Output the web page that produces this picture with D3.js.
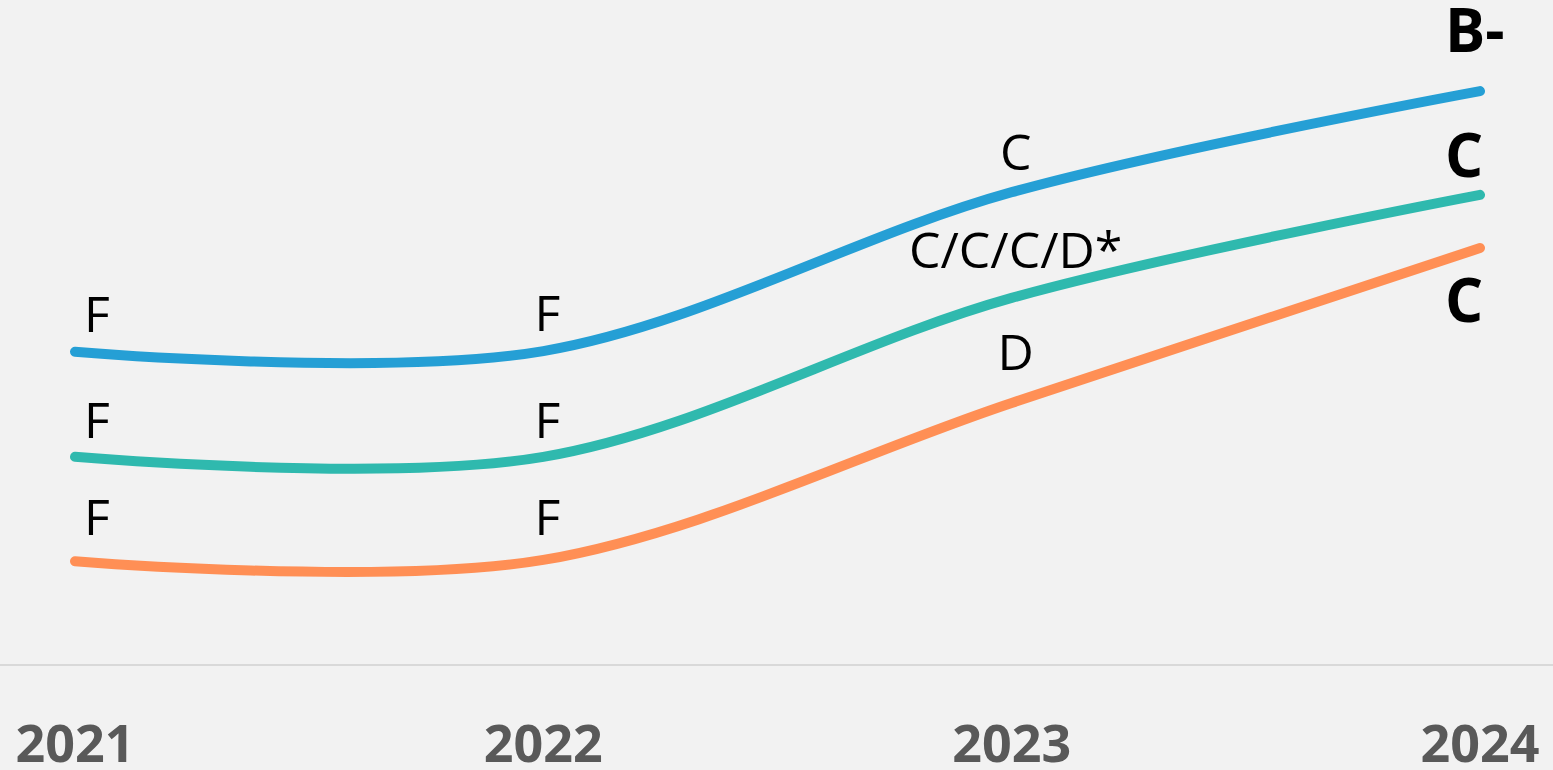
<!DOCTYPE html>
<html>
<head>
<meta charset="utf-8">
<script src="https://cdn.jsdelivr.net/npm/d3@7"></script>
<style>
  html, body { margin: 0; padding: 0; background: #f2f2f2; overflow: hidden; }
  svg { display: block; font-family: "Open Sans", "Noto Sans", sans-serif; }
</style>
</head>
<body>
<svg id="chart" width="1553" height="770"></svg>
<script>
// data
var years = ['2021', '2022', '2023', '2024'];
var blueValues   = [47.1, 47.2, 71.1, 86.3];
var tealValues   = [31.3, 31.3, 55.2, 70.7];
var orangeValues = [15.6, 15.8, 39.4, 62.7];
var blueGrades   = ['F', 'F', 'C', 'B-'];
var tealGrades   = ['F', 'F', 'C/C/C/D*', 'C'];
var orangeGrades = ['F', 'F', 'D', 'C'];

// layout
var width = 1553, height = 770;
var svg = d3.select('#chart');

svg.append('rect').attr('width', width).attr('height', height).attr('fill', '#f2f2f2');

var x = d3.scalePoint().domain(years).range([75, 1480]);
var y = d3.scaleLinear().domain([0, 100]).range([665, 0]);

var series = [
  { values: blueValues,   grades: blueGrades,   color: '#259fd5', dy: [-20, -20, -22, -39] },
  { values: tealValues,   grades: tealGrades,   color: '#2fb9ae', dy: [-19, -19, -30, -18] },
  { values: orangeValues, grades: orangeGrades, color: '#ff8f55', dy: [-26, -25, -33, 74] }
];

// axis line
svg.append('line')
  .attr('x1', 0).attr('x2', width)
  .attr('y1', y(0)).attr('y2', y(0))
  .attr('stroke', '#d9d9d9').attr('stroke-width', 2);

var line = d3.line()
  .x(function(d, i) { return x(years[i]); })
  .y(function(d) { return y(d); })
  .curve(d3.curveCardinal);

series.forEach(function(s) {
  svg.append('path')
    .attr('d', line(s.values))
    .attr('fill', 'none')
    .attr('stroke', s.color)
    .attr('stroke-width', 10)
    .attr('stroke-linecap', 'round');

  s.values.forEach(function(v, i) {
    var last = i === years.length - 1;
    svg.append('text')
      .attr('x', x(years[i]) + (i === 0 ? 22 : (last ? -35 : 4)))
      .attr('y', y(v) + s.dy[i])
      .attr('text-anchor', last ? 'start' : 'middle')
      .attr('fill', '#000')
      .style('font-size', last ? '60px' : '50px')
      .style('font-weight', last ? 700 : 400)
      .text(s.grades[i]);
  });
});

// year labels
svg.selectAll('.year')
  .data(years)
  .enter().append('text')
  .attr('class', 'year')
  .attr('x', function(d) { return x(d); })
  .attr('y', 762)
  .attr('text-anchor', 'middle')
  .attr('fill', '#595959')
  .style('font-size', '52px')
  .style('font-weight', 700)
  .text(function(d) { return d; });
</script>
</body>
</html>
